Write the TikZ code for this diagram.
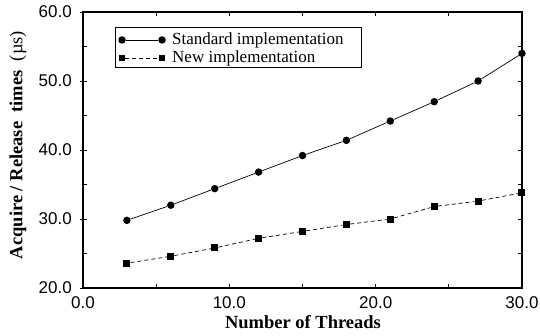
\documentclass[tikz,border=0pt]{standalone}
\usepackage{fontspec}
\setmainfont{Liberation Serif}
\newfontfamily\ticksf{Liberation Sans}
\begin{document}
\begin{tikzpicture}[x=1pt,y=1pt,
  axisline/.style={line width=1.1pt},
  tickline/.style={line width=0.9pt},
  dataline/.style={line width=0.7pt},
  newline/.style={line width=0.7pt,dash pattern=on 4pt off 3pt},
  circmark/.style={circle,fill=black,inner sep=0pt,minimum size=7.5pt},
  sqmark/.style={rectangle,fill=black,inner sep=0pt,minimum size=7pt},
  ticklab/.style={font=\ticksf\fontsize{17}{18}\selectfont,inner sep=0pt},
  axtitle/.style={font=\fontsize{18.5}{20}\selectfont\bfseries,inner sep=0pt},
  legtext/.style={font=\fontsize{17}{18}\selectfont,inner sep=0pt,anchor=west}]
\useasboundingbox (0,0) rectangle (540,335);
% plot frame
\draw[axisline] (83,47) rectangle (522,323);
\begin{scope}[shift={(83pt,47pt)},x=14.633pt,y=6.9pt]
  % x ticks
  \foreach \t in {5,10,15,20,25} {
    \draw[tickline] (\t,0) -- ++(0,4pt);
    \draw[tickline] (\t,40) -- ++(0,-4pt);
  }
  % y ticks
  \foreach \t in {5,10,15,20,25,30,35} {
    \draw[tickline] (0,\t) -- ++(4pt,0);
    \draw[tickline] (30,\t) -- ++(-4pt,0);
  }
  \foreach \t in {0,10,20,30,40} {
    \draw[tickline] (0,\t) -- ++(-3pt,0);
  }
  % tick labels
  \foreach \v/\l in {0/0.0,10/10.0,20/20.0,30/30.0}
    \node[ticklab] (xl\v) at (\v,-2.1) {\l};
  \foreach \v/\l in {0/20.0,10/30.0,20/40.0,30/50.0,40/60.0}
    \node[ticklab,anchor=east] (yl\v) at (-0.75,\v) {\l};
  % standard data
  \foreach \i/\x/\y in {1/3/29.8,2/6/32.0,3/9/34.4,4/12/36.8,5/15/39.2,6/18/41.4,7/21/44.2,8/24/47.0,9/27/50.0,10/30/54.0}
    \node[circmark] (s\i) at (\x,\y-20) {};
  % new data
  \foreach \i/\x/\y in {1/3/23.6,2/6/24.6,3/9/25.8,4/12/27.2,5/15/28.2,6/18/29.2,7/21/30.0,8/24/31.8,9/27/32.6,10/30/33.8}
    \node[sqmark] (n\i) at (\x,\y-20) {};
  \foreach \i [evaluate=\i as \j using int(\i+1)] in {1,...,9} {
    \draw[dataline] (s\i) -- (s\j);
    \draw[newline] (n\i) -- (n\j);
  }
\end{scope}
% axis titles
\node[axtitle] (xt) at (303,13) {Number of Threads};
\node[axtitle,rotate=90] (yt) at (18,190) {Acquire / Release\ \ times\ \ \mdseries(µs)};
% legend
\node[draw,line width=0.8pt,minimum width=246pt,minimum height=40pt,inner sep=0pt] (leg) at (238,288) {};
\node[circmark] (ls1) at (122,295) {};
\node[circmark] (ls2) at (162,295) {};
\draw[dataline] (ls1) -- (ls2);
\node[sqmark,minimum size=6pt] (ln1) at (122,277) {};
\node[sqmark,minimum size=6pt] (ln2) at (162,277) {};
\draw[newline] (ln1) -- (ln2);
\node[legtext] (lt1) at (172,295) {Standard implementation};
\node[legtext] (lt2) at (172,277) {New implementation};
\end{tikzpicture}
\end{document}
